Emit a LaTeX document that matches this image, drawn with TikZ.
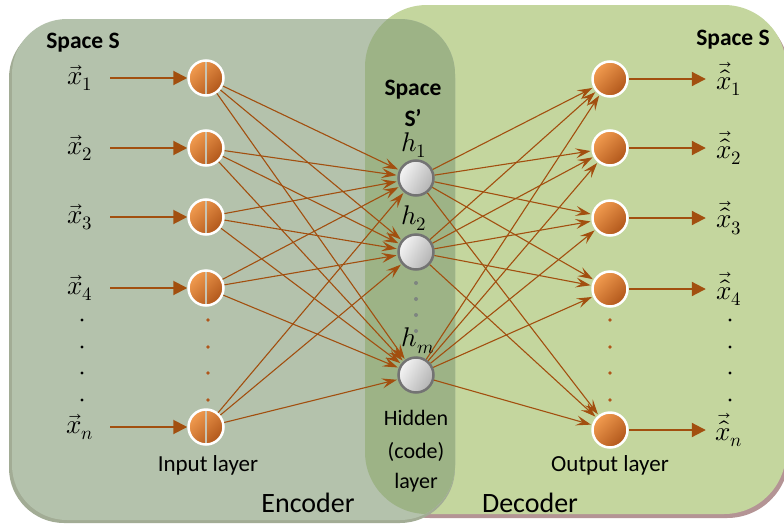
\documentclass[tikz,border=0pt]{standalone}
\usepackage{amsmath}
\usepackage{fontspec}
\usepackage{unicode-math}
\setmainfont{Carlito}
\setmathfont{Latin Modern Math}
\usepackage{tikz}
\usetikzlibrary{arrows.meta}
\definecolor{EncoderBG}  {HTML}{B4C2AC}
\definecolor{DecoderBG}  {HTML}{C4D69E}
\definecolor{CodeBG}     {HTML}{9DB386}
\definecolor{EncShadow}  {HTML}{A2AC95}
\definecolor{DecShadow}  {HTML}{B49495}
\definecolor{LinkBrown}  {HTML}{A24F0F}
\definecolor{NeuronLight}{HTML}{F29C50}
\definecolor{NeuronDark} {HTML}{B0561A}
\definecolor{RingGray}   {HTML}{737373}
\definecolor{SplitGray}  {HTML}{C8C4B4}
\definecolor{DotGray}    {HTML}{7E8580}

\begin{document}
\begin{tikzpicture}[x=1pt,y=-1pt,
    neuron/.style={circle,minimum size=35pt,inner sep=0pt,line width=2.5pt},
    inneuron/.style={neuron,draw=white,top color=NeuronLight,bottom color=NeuronDark,
      shading angle=45,
      path picture={\draw[SplitGray,line width=1.3pt]
        (path picture bounding box.north) -- (path picture bounding box.south);}},
    outneuron/.style={neuron,draw=white,top color=NeuronLight,bottom color=NeuronDark,
      shading angle=45},
    hidneuron/.style={neuron,draw=RingGray,top color=gray!8,bottom color=gray!60,
      shading angle=60},
    veclabel/.style={minimum width=30pt,inner sep=0pt,
      font=\fontsize{27}{31}\selectfont},
    caption/.style={font=\fontsize{23}{27}\selectfont},
    hidcaption/.style={font=\fontsize{22}{26}\selectfont},
    spacetitle/.style={font=\fontsize{23.5}{27}\selectfont\bfseries},
    bigtitle/.style={font=\fontsize{28}{33}\selectfont},
    feed/.style={LinkBrown,line width=2pt,-{Triangle[length=14pt,width=14pt]}},
    link/.style={LinkBrown,line width=1.1pt,shorten >=1pt,
      -{Stealth[length=15pt,width=10pt,inset=6pt]}}]
  \useasboundingbox (0,0) rectangle (784,525);
  \fill[white] (0,0) rectangle (784,525);

  % encoder / decoder panels
  \fill[DecShadow,rounded corners=62pt] (368,10) rectangle (789,518);
  \fill[DecoderBG,rounded corners=62pt] (365,5) rectangle (786,514);
  \fill[EncShadow,rounded corners=55pt] (9,23) rectangle (455,523);
  \fill[EncoderBG,rounded corners=55pt] (12,19) rectangle (455,520);
  \begin{scope}
    \clip[rounded corners=55pt] (12,19) rectangle (455,520);
    \fill[CodeBG,rounded corners=62pt] (365,5) rectangle (786,514);
  \end{scope}

  % input side
  \foreach \n/\y/\s in {1/78/1,2/148/2,3/217/3,4/288/4,5/427/n} {
    \node[inneuron] (in\n) at (206,\y) {};
    \node[veclabel] (x\n) at (80,\y) {$\vec{x}_{\s}$};
    \draw[feed,shorten <=15pt] (x\n) -- (in\n);
  }

  % hidden (code) layer
  \foreach \n/\y in {1/178,2/252,3/375}
    \node[hidneuron] (hid\n) at (416,\y) {};

  % output side
  \foreach \n/\y/\s in {1/79/1,2/148/2,3/218/3,4/289/4,5/430/n} {
    \node[outneuron] (out\n) at (610,\y) {};
    \node[veclabel] (xh\n) at (729,\y) {$\vec{\hat{x}}_{\s}$};
    \draw[feed,shorten >=8pt] (out\n) -- (xh\n);
  }

  % fully connected weights
  \foreach \i in {1,...,5}
    \foreach \j in {1,2,3}
      \draw[link] (in\i) -- (hid\j);
  \foreach \j in {1,2,3}
    \foreach \o in {1,...,5}
      \draw[link] (hid\j) -- (out\o);

  % dots
  \foreach \y in {320,347,373,400} {
    \fill[black] (82,\y) circle (1.6pt);
    \fill[NeuronDark] (208,\y) circle (1.8pt);
    \fill[NeuronDark] (610,\y) circle (1.8pt);
    \fill[black] (730,\y) circle (1.6pt);
  }
  \foreach \y in {283,299,315,331}
    \fill[DotGray] (416,\y) circle (2pt);

  % labels
  \node[veclabel] (h1) at (414,145) {$h_1$};
  \node[veclabel] (h2) at (414,218) {$h_2$};
  \node[veclabel] (hm) at (418,341) {$h_m$};
  \node[spacetitle] (spaceL) at (83,43) {Space S};
  \node[spacetitle] (spaceR) at (733,40) {Space S};
  \node[spacetitle] (spaceC1) at (413,90) {Space};
  \node[spacetitle] (spaceC2) at (413,118) {S’};
  \node[caption] (inlab) at (208,465) {Input layer};
  \node[caption] (outlab) at (610,465) {Output layer};
  \node[hidcaption] (hidA) at (416,418) {Hidden};
  \node[hidcaption] (hidB) at (416,452) {(code)};
  \node[hidcaption] (hidC) at (416,483) {layer};
  \node[bigtitle] (enc) at (308,503) {Encoder};
  \node[bigtitle] (dec) at (530,503) {Decoder};
\end{tikzpicture}
\end{document}
